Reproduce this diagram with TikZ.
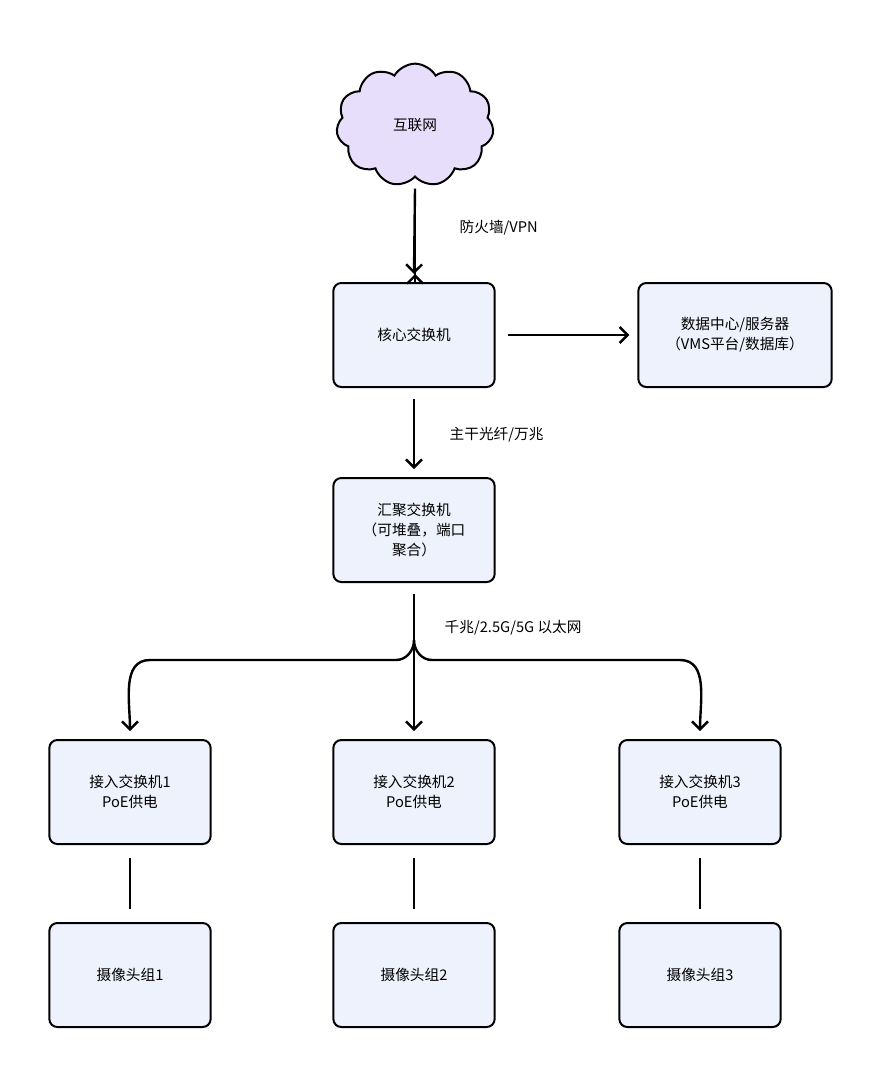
\documentclass[tikz,border=0pt]{standalone}
\usepackage{fontspec}
\setmainfont{Noto Sans CJK SC}
\usetikzlibrary{shapes.symbols, arrows.meta, positioning}
\definecolor{boxfill}{HTML}{EEF2FC}
\definecolor{cloudfill}{HTML}{E6DEFA}
\tikzset{
  box/.style={rectangle, rounded corners=6pt, minimum width=121pt, minimum height=78pt,
    text centered, align=center, draw=black, line width=1.5pt, fill=boxfill, font=\fontsize{11}{15}\selectfont},
  cloudnode/.style={cloud, cloud puffs=11, cloud puff arc=120, aspect=1.3, minimum width=118pt,
    minimum height=92pt, draw=black, line width=1.5pt, fill=cloudfill, font=\fontsize{11}{15}\selectfont},
  arrow/.style={line width=1.8pt, -{Straight Barb[length=6pt,width=12pt,line width=1.8pt]}},
  link/.style={line width=1.8pt},
  lbl/.style={font=\fontsize{11}{15}\selectfont, anchor=west}
}
\begin{document}
\begin{tikzpicture}[x=0.75pt, y=-0.75pt]
\useasboundingbox (0,0) rectangle (882,1078);

\node (net) [cloudnode] at (415,125) {互联网};
\node (core) [box] at (414,335) {核心交换机};
\node (dc) [box, minimum width=145pt] at (735,335) {数据中心/服务器\\（VMS平台/数据库）};
\node (agg) [box] at (414,530) {汇聚交换机\\（可堆叠，端口\\聚合）};
\node (acc1) [box] at (130,792) {接入交换机1\\PoE供电};
\node (acc2) [box] at (414,792) {接入交换机2\\PoE供电};
\node (acc3) [box] at (700,792) {接入交换机3\\PoE供电};
\node (cam1) [box] at (130,975) {摄像头组1};
\node (cam2) [box] at (414,975) {摄像头组2};
\node (cam3) [box] at (700,975) {摄像头组3};
\coordinate (split) at (414,640);

\draw [arrow] (415,192) -- (core.north -| 415,0) ++(0,-8);
\draw [arrow] ([yshift=-8pt]net.south) -- ([yshift=6pt]core.north);
\node [lbl] at (455,228) {防火墙/VPN};
\draw [arrow] ([xshift=9pt]core.east) -- ([xshift=-6pt]dc.west);
\draw [arrow] ([yshift=-8pt]core.south) -- ([yshift=6pt]agg.north);
\node [lbl] at (445,435) {主干光纤/万兆};
\draw [link] ([yshift=-8pt]agg.south) -- (split);
\draw [arrow] (split) -- ([yshift=6pt]acc2.north);
\draw [arrow] (split) to[out=-90,in=0] (396,660) -- (150,660) to[out=180,in=90] ([yshift=6pt]acc1.north);
\draw [arrow] (split) to[out=-90,in=180] (432,660) -- (680,660) to[out=0,in=90] ([yshift=6pt]acc3.north);
\node [lbl] at (440,628) {千兆/2.5G/5G 以太网};
\foreach \i in {1,2,3}
  \draw [link] ([yshift=-10pt]acc\i.south) -- ([yshift=10pt]cam\i.north);

\end{tikzpicture}
\end{document}
